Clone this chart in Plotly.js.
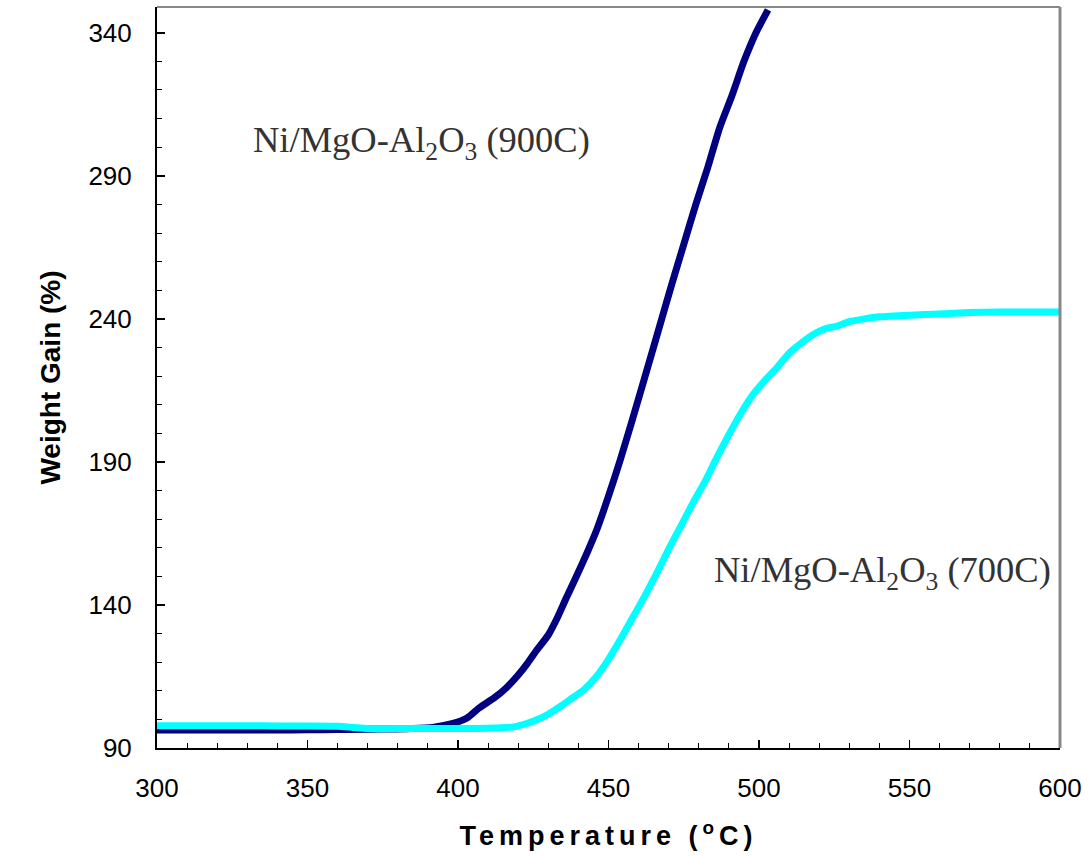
<!DOCTYPE html>
<html>
<head>
<meta charset="utf-8">
<script src="https://cdn.plot.ly/plotly-3.0.1.min.js"></script>
<style>
  body { margin: 0; background: #fff; }
  #chart { width: 1090px; height: 857px; }
  .xtitle { letter-spacing: 5px; }
</style>
</head>
<body>
<div id="chart"></div>
<script>
// Ni/MgO-Al2O3 calcined at 900C
const temp900 = [300, 310, 320, 333, 345, 355, 365, 375, 385, 392, 398, 403, 407, 412, 416, 420, 423, 426, 430, 433, 436, 440, 443, 446, 450, 454, 458, 463, 467, 471, 475, 479, 483, 487, 491, 495, 499, 503];
const gain900 = [96.3, 96.3, 96.3, 96.3, 96.3, 96.4, 96.5, 96.6, 96.8, 97.3, 98.5, 100.5, 104, 107.5, 111, 115.5, 119.5, 124, 129.5, 135.5, 142.5, 151.5, 158.5, 166, 178, 191, 205, 223, 237.5, 252, 266, 280, 293, 307, 318, 330, 340, 348];

// Ni/MgO-Al2O3 calcined at 700C
const temp700 = [300, 310, 320, 330, 340, 350, 360, 365, 370, 380, 390, 400, 410, 418, 422, 426, 430, 434, 438, 442, 446, 450, 454, 458, 462, 466, 470, 474, 478, 482, 486, 490, 494, 498, 502, 506, 510, 514, 518, 522, 526, 530, 535, 540, 550, 560, 570, 580, 590, 600];
const gain700 = [97.8, 97.8, 97.8, 97.8, 97.7, 97.7, 97.6, 97.2, 96.8, 96.8, 96.8, 96.8, 96.9, 97.3, 98.3, 99.8, 101.8, 104.5, 107.5, 110.5, 115, 121, 128, 135.5, 143, 151, 159.5, 167.5, 175.5, 183, 191.5, 199.5, 207, 213.5, 218.5, 223, 228, 231.5, 234.5, 236.5, 237.5, 239, 240, 240.7, 241.3, 241.7, 242.2, 242.4, 242.4, 242.4];

const labels = ['Ni/MgO-Al<sub>2</sub>O<sub>3</sub> (900C)', 'Ni/MgO-Al<sub>2</sub>O<sub>3</sub> (700C)'];
const xTickVals = [300, 350, 400, 450, 500, 550, 600];
const yTickVals = [90, 140, 190, 240, 290, 340];

const traces = [
  { x: temp900, y: gain900, type: 'scatter', mode: 'lines', line: { color: '#000080', width: 7, shape: 'spline', smoothing: 0.6 }, showlegend: false, hoverinfo: 'skip' },
  { x: temp700, y: gain700, type: 'scatter', mode: 'lines', line: { color: '#00FFFF', width: 7, shape: 'spline', smoothing: 0.6 }, showlegend: false, hoverinfo: 'skip' }
];

const tickFont = { family: 'Liberation Sans, Arial, sans-serif', size: 26, color: '#000' };

const layout = {
  width: 1090, height: 857,
  margin: { l: 157, r: 30, t: 7, b: 109 },
  paper_bgcolor: '#fff', plot_bgcolor: '#fff',
  showlegend: false,
  xaxis: {
    range: [300, 600], autorange: false,
    tickvals: xTickVals, ticktext: xTickVals.map(String),
    ticks: 'inside', ticklen: 8, tickwidth: 1.5, tickcolor: '#000',
    minor: { dtick: 10, ticks: 'inside', ticklen: 5, tickwidth: 1, tickcolor: '#000' },
    showline: true, linecolor: '#000', linewidth: 2, mirror: false,
    showgrid: false, zeroline: false,
    tickfont: tickFont, ticklabelstandoff: 16,
    title: { text: 'Temperature (<sup>o</sup>C)', font: { family: 'Liberation Sans, Arial, sans-serif', size: 27, color: '#000', weight: 'bold' }, standoff: 24 },
    automargin: false
  },
  yaxis: {
    range: [90, 349], autorange: false,
    tickvals: yTickVals, ticktext: yTickVals.map(String),
    ticks: 'inside', ticklen: 8, tickwidth: 1.5, tickcolor: '#000',
    minor: { dtick: 10, ticks: 'inside', ticklen: 5, tickwidth: 1, tickcolor: '#000' },
    showline: true, linecolor: '#000', linewidth: 2, mirror: false,
    showgrid: false, zeroline: false,
    tickfont: tickFont, ticklabelstandoff: 18,
    title: { text: 'Weight Gain (%)', font: { family: 'Liberation Sans, Arial, sans-serif', size: 28, color: '#000', weight: 'bold' }, standoff: 20 },
    automargin: false
  },
  shapes: [
    { type: 'line', xref: 'paper', yref: 'paper', x0: 0, x1: 1, y0: 1, y1: 1, line: { color: '#888', width: 2 } },
    { type: 'line', xref: 'paper', yref: 'paper', x0: 1, x1: 1, y0: 0, y1: 1, line: { color: '#888', width: 3 } }
  ],
  annotations: [
    { x: 331.2, y: 301.5, xref: 'x', yref: 'y', xanchor: 'left', yanchor: 'middle', showarrow: false,
      text: labels[0], font: { family: 'Liberation Serif, Times New Roman, serif', size: 36.5, color: '#333' } },
    { x: 484.5, y: 151.5, xref: 'x', yref: 'y', xanchor: 'left', yanchor: 'middle', showarrow: false,
      text: labels[1], font: { family: 'Liberation Serif, Times New Roman, serif', size: 36.5, color: '#333' } }
  ]
};

Plotly.newPlot('chart', traces, layout, { staticPlot: true, displayModeBar: false });
</script>
</body>
</html>
